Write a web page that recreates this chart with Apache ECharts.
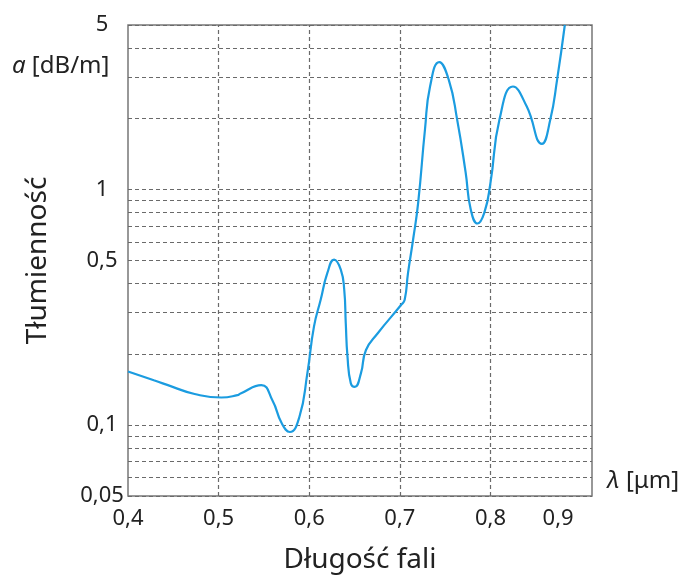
<!DOCTYPE html>
<html>
<head>
<meta charset="utf-8">
<script src="https://cdn.jsdelivr.net/npm/echarts@6/dist/echarts.min.js"></script>
<style>
  html, body { margin: 0; padding: 0; background: #fff; }
  #chart { width: 683px; height: 579px; }
</style>
</head>
<body>
<div id="chart"></div>
<script>
// tłumienność światłowodu w funkcji długości fali
const wavelength = [0.400, 0.4285, 0.450, 0.4735, 0.503, 0.5207, 0.5242, 0.5471, 0.5593, 0.5698,
  0.5786, 0.5891, 0.5979, 0.6052, 0.6126, 0.620, 0.6274, 0.6348, 0.6386, 0.6403,
  0.6422, 0.6459, 0.6503, 0.657, 0.6626, 0.6756, 0.7015, 0.7053, 0.709, 0.7146,
  0.7202, 0.7277, 0.7333, 0.7434, 0.7539, 0.7632, 0.7726, 0.7782, 0.7857, 0.7932,
  0.800, 0.8099, 0.8248, 0.8399, 0.8567, 0.866, 0.8735, 0.882];
const attenuation = [0.169, 0.155, 0.145, 0.1355, 0.131, 0.134, 0.1362, 0.1478, 0.1276, 0.1015,
  0.0935, 0.1083, 0.1658, 0.262, 0.3404, 0.4426, 0.5044, 0.4571, 0.3757, 0.2709,
  0.1952, 0.1503, 0.1454, 0.1658, 0.2084, 0.2456, 0.3243, 0.3404, 0.4426, 0.6138,
  0.88, 1.80, 2.74, 3.48, 2.93, 1.983, 1.18, 0.824, 0.718, 0.798,
  1.07, 1.983, 2.74, 2.257, 1.565, 1.983, 2.93, 5.0];

// linie siatki
const xGrid = [0.5, 0.6, 0.7, 0.8];
const yGrid = [0.05, 0.06, 0.07, 0.08, 0.09, 0.1, 0.2, 0.3, 0.4, 0.5, 0.6, 0.7, 0.8, 0.9, 1, 2, 3, 4, 5];
const yLabels = [0.05, 0.1, 0.5, 1, 5]; // opisane wartości osi Y

const fmt = (v) => String(v).replace('.', ',');
const gridStyle = { color: '#6a6a6a', type: [4, 3], width: 1.2 };

const myChart = echarts.init(document.getElementById('chart'));

const markData = [];
xGrid.forEach((v) => markData.push({ xAxis: v, label: { show: false } }));
yGrid.forEach((v) => {
  markData.push({ yAxis: v, label: { show: yLabels.includes(v) } });
});

const option = {
  animation: false,
  textStyle: { fontFamily: 'Noto Sans', color: '#222' },
  grid: {
    left: 128, top: 25, right: 91, bottom: 81,
    show: true, borderColor: '#777', borderWidth: 1.5
  },
  xAxis: {
    type: 'value',
    min: 0.4,
    max: 0.912,
    interval: 0.1,
    name: 'Długość fali',
    nameLocation: 'middle',
    nameGap: 50,
    nameTextStyle: { fontSize: 28, color: '#222', fontFamily: 'Noto Sans' },
    axisLine: { show: false },
    axisTick: { show: false },
    splitLine: { show: false },
    axisLabel: {
      fontSize: 22,
      color: '#222',
      margin: 12,
      formatter: (v) => {
        const s = v.toFixed(1).replace('.', ',');
        return v > 0.85 ? '{r|' + s + '}' : s;
      },
      rich: { r: { fontSize: 22, color: '#222', padding: [0, 46, 0, 0] } }
    }
  },
  yAxis: {
    type: 'log',
    logBase: 10,
    min: 0.05,
    max: 5,
    name: 'Tłumienność',
    nameLocation: 'middle',
    nameRotate: 90,
    nameGap: 76,
    nameTextStyle: { fontSize: 28, color: '#222', fontFamily: 'Noto Sans' },
    axisLine: { show: false },
    axisTick: { show: false },
    splitLine: { show: false },
    axisLabel: { show: false }
  },
  graphic: [
    {
      type: 'text', left: 12, top: 54,
      style: {
        text: '{i|a} [dB/m]',
        font: '24px "Noto Sans"', fill: '#222',
        rich: { i: { fontStyle: 'italic', fontSize: 24, fontFamily: 'Noto Sans', fill: '#222' } }
      }
    },
    {
      type: 'text', left: 607, top: 469,
      style: {
        text: '{i|λ} [μm]',
        font: '24px "Noto Sans"', fill: '#222',
        rich: { i: { fontStyle: 'italic', fontSize: 24, fontFamily: 'Noto Sans', fill: '#222' } }
      }
    }
  ],
  series: [
    {
      type: 'line',
      data: wavelength.map((x, i) => [x, attenuation[i]]),
      smooth: 0.5,
      showSymbol: false,
      lineStyle: { color: '#1b9ce0', width: 2.2 },
      z: 5,
      markLine: {
        silent: true,
        symbol: 'none',
        lineStyle: gridStyle,
        label: {
          position: 'start',
          distance: 26,
          align: 'center',
          fontSize: 22,
          color: '#222',
          fontFamily: 'Noto Sans',
          formatter: (p) => fmt(p.value)
        },
        data: markData
      }
    }
  ]
};

myChart.setOption(option);
</script>
</body>
</html>
